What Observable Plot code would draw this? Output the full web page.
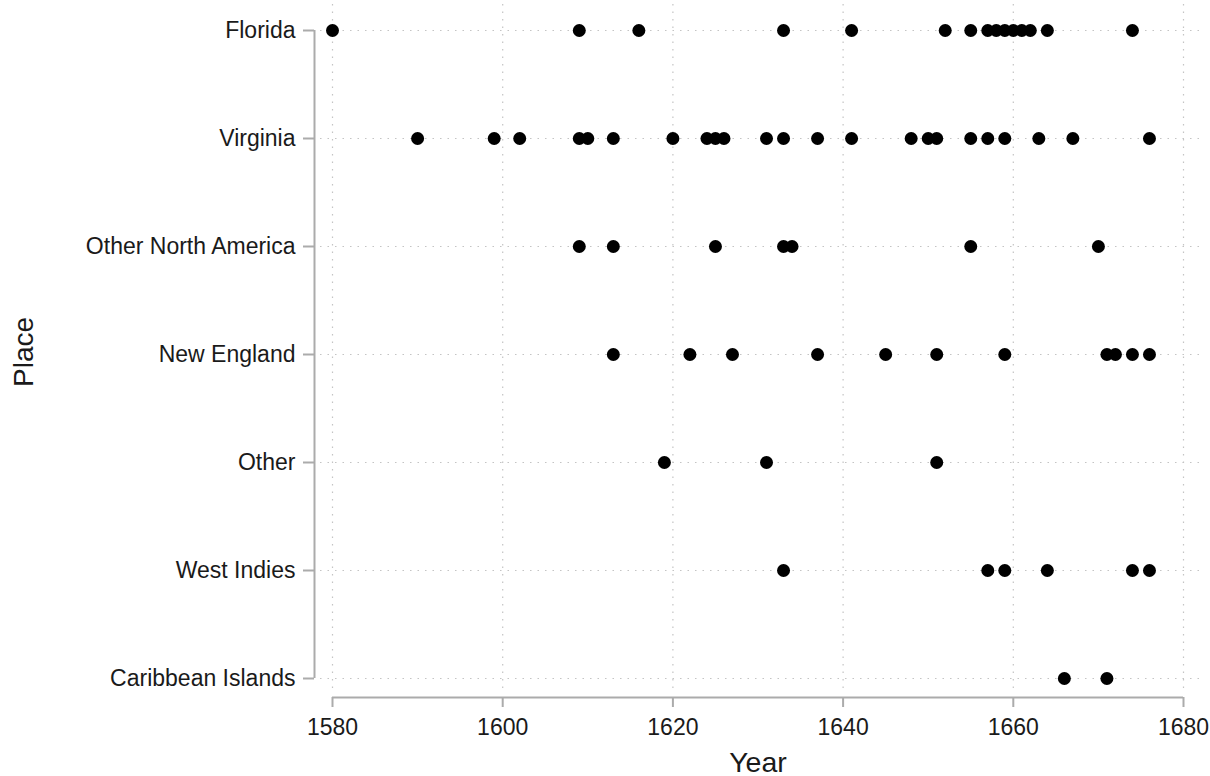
<!DOCTYPE html>
<html>
<head>
<meta charset="utf-8">
<script src="https://cdn.jsdelivr.net/npm/d3@7"></script>
<script src="https://cdn.jsdelivr.net/npm/@observablehq/plot@0.6"></script>
<style>
  html, body { margin: 0; padding: 0; background: #fff; }
  #chart svg { display: block; }
</style>
</head>
<body>
<div id="chart"></div>
<script>
// Places, top to bottom
const places = [
  "Florida",
  "Virginia",
  "Other North America",
  "New England",
  "Other",
  "West Indies",
  "Caribbean Islands"
];

// Years recorded for each place
const floridaYears = [1580, 1609, 1616, 1633, 1641, 1652, 1655, 1657, 1658, 1659, 1660, 1661, 1662, 1664, 1674];
const virginiaYears = [1590, 1599, 1602, 1609, 1610, 1613, 1620, 1624, 1625, 1626, 1631, 1633, 1637, 1641, 1648, 1650, 1651, 1655, 1657, 1659, 1663, 1667, 1676];
const otherNorthAmericaYears = [1609, 1613, 1625, 1633, 1634, 1655, 1670];
const newEnglandYears = [1613, 1622, 1627, 1637, 1645, 1651, 1659, 1671, 1672, 1674, 1676];
const otherYears = [1619, 1631, 1651];
const westIndiesYears = [1633, 1657, 1659, 1664, 1674, 1676];
const caribbeanIslandsYears = [1666, 1671];

// Axis ticks
const xDomain = [1580, 1680];
const xTicks = [1580, 1600, 1620, 1640, 1660, 1680];

const yearsByPlace = [
  floridaYears, virginiaYears, otherNorthAmericaYears, newEnglandYears,
  otherYears, westIndiesYears, caribbeanIslandsYears
];
const records = places.flatMap((place, i) => yearsByPlace[i].map(year => ({place, year})));

const axisGray = "#ababab";
const gridGray = "#c4c4c4";
const textColor = "#1a1a1a";
const firstPlace = places[0];
const lastPlace = places[places.length - 1];

const chart = Plot.plot({
  width: 1210,
  height: 776,
  marginLeft: 332,
  marginRight: 27,
  marginTop: 29,
  marginBottom: 98,
  style: {fontFamily: "'Liberation Sans', Arial, sans-serif", background: "#fff"},
  x: {domain: xDomain},
  y: {type: "point", domain: places, padding: 0},
  marks: [
    // dotted grid
    Plot.gridX({ticks: xTicks, stroke: gridGray, strokeOpacity: 1, strokeWidth: 1.2,
      strokeDasharray: "1.5,6", insetTop: -25, insetBottom: -12}),
    Plot.gridY({stroke: gridGray, strokeOpacity: 1, strokeWidth: 1.2,
      strokeDasharray: "1.5,6", insetLeft: -12, insetRight: -17}),

    // y axis: detached spine, ticks and labels
    Plot.ruleX([xDomain[0]], {x: d => d, y1: () => firstPlace, y2: () => lastPlace, dx: -18,
      stroke: axisGray, strokeWidth: 2}),
    Plot.axisY({tickSize: 11, tickPadding: 8, dx: -18, fontSize: 23, label: null,
      stroke: axisGray, strokeWidth: 2, fill: textColor}),

    // x axis: detached spine, ticks and labels
    Plot.ruleY([lastPlace], {y: d => d, x1: xDomain[0], x2: xDomain[1], dy: 19, stroke: axisGray, strokeWidth: 2}),
    Plot.axisX({ticks: xTicks, tickFormat: d => String(d), tickSize: 10, tickPadding: 11, dy: 19,
      fontSize: 23, label: null, stroke: axisGray, strokeWidth: 2, fill: textColor}),

    // axis titles
    Plot.text(["Year"], {frameAnchor: "bottom", dy: 84, fontSize: 28.5, fill: textColor,
      lineAnchor: "middle", textAnchor: "middle"}),
    Plot.text(["Place"], {frameAnchor: "left", dx: -308, dy: -2, rotate: -90, fontSize: 28,
      fill: textColor, lineAnchor: "middle", textAnchor: "middle"}),

    // observations
    Plot.dot(records, {x: "year", y: "place", r: 6.5, fill: "#000", stroke: null})
  ]
});

document.getElementById("chart").appendChild(chart);
</script>
</body>
</html>
